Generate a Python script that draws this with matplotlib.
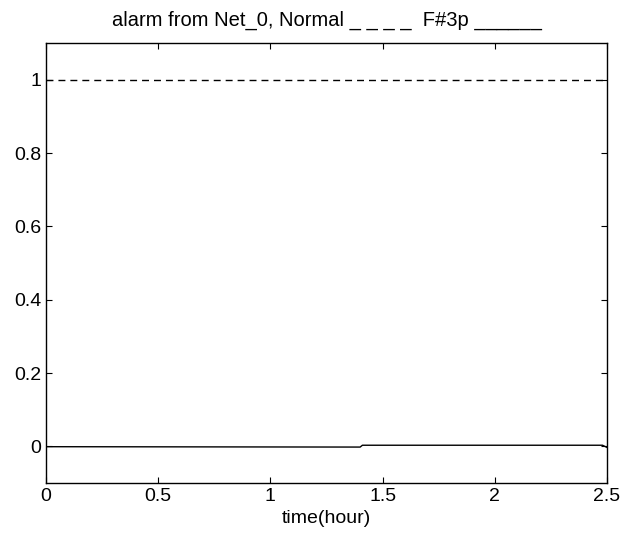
import matplotlib
matplotlib.use("Agg")
import matplotlib.pyplot as plt

plt.rcParams['font.family'] = ['Liberation Sans', 'DejaVu Sans']

# data
normal_t = [0.0, 2.5]
normal_v = [1.0, 1.0]
fault_t = [0.0, 1.40, 1.41, 2.48, 2.5]
fault_v = [-0.001, -0.002, 0.003, 0.003, -0.003]
xticks = [0, 0.5, 1, 1.5, 2, 2.5]
xticklabels = ['0', '0.5', '1', '1.5', '2', '2.5']
yticks = [0, 0.2, 0.4, 0.6, 0.8, 1]
yticklabels = ['0', '0.2', '0.4', '0.6', '0.8', '1']

fig = plt.figure(figsize=(6.2, 5.37), dpi=100)
ax = fig.add_axes([46/620, 1-483/537, (607-46)/620, (483-43)/537])
ax.plot(normal_t, normal_v, color='black', linestyle=(0, (5, 3.6)), linewidth=1.0)
ax.plot(fault_t, fault_v, color='black', linestyle='-', linewidth=1.0)
ax.set_xlim(0, 2.5)
ax.set_ylim(-0.1, 1.1)
ax.set_xticks(xticks)
ax.set_xticklabels(xticklabels)
ax.set_yticks(yticks)
ax.set_yticklabels(yticklabels)
ax.tick_params(direction='in', top=True, right=True, labelsize=14, length=4, width=0.8, colors='black', pad=3.5)
for s in ax.spines.values():
    s.set_linewidth(1.0)
ax.set_xlabel('time(hour)', fontsize=14, labelpad=4)
ax.set_title('alarm from Net_0, Normal _ _ _ _  F#3p ______', fontsize=14.5, pad=12.5)
fig.savefig('out.png', dpi=100)
